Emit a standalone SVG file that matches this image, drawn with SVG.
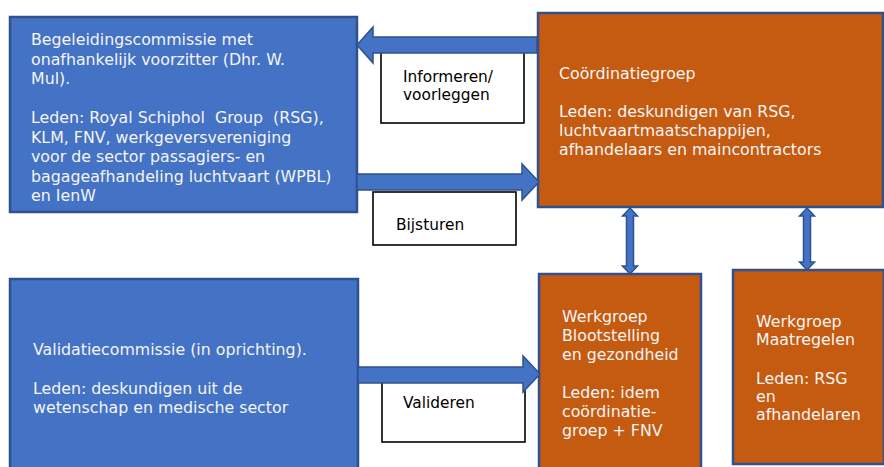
<svg xmlns="http://www.w3.org/2000/svg" width="884" height="467" viewBox="0 0 884 467">
<style>
.blue{fill:#4472C4;stroke:#2F528F;stroke-width:2.5}
.orange{fill:#C55A11;stroke:#2F528F;stroke-width:2.5}
.lbl{fill:#ffffff;stroke:#000000;stroke-width:1.6}
.t{font-family:"DejaVu Sans",Verdana,sans-serif;fill:#f5f5f5;font-size:15.8px}
.lt{font-family:"DejaVu Sans",Verdana,sans-serif;font-size:15.4px;fill:#000000}
.arr{fill:#4472C4;stroke:#2F528F;stroke-width:1.5;stroke-linejoin:miter}
</style>
<rect width="884" height="467" fill="#ffffff"/>

<g id="begeleidingscommissie">
<rect class="blue" x="10" y="17" width="347" height="195"/>
<text class="t">
<tspan x="31" y="45">Begeleidingscommissie met</tspan>
<tspan x="31" y="64.5">onafhankelijk voorzitter (Dhr. W.</tspan>
<tspan x="31" y="84">Mul).</tspan>
<tspan x="31" y="123">Leden: Royal <tspan word-spacing="5">Schiphol Group (RSG),</tspan></tspan>
<tspan x="31" y="142.5">KLM, FNV, werkgeversvereniging</tspan>
<tspan x="31" y="162">voor de sector passagiers- en</tspan>
<tspan x="31" y="181.5">bagageafhandeling luchtvaart (WPBL)</tspan>
<tspan x="31" y="201">en IenW</tspan>
</text>
</g>

<g id="coordinatiegroep">
<rect class="orange" x="538" y="13" width="345" height="194"/>
<text class="t">
<tspan x="559" y="79">Coördinatiegroep</tspan>
<tspan x="559" y="117">Leden: deskundigen van RSG,</tspan>
<tspan x="559" y="136">luchtvaartmaatschappijen,</tspan>
<tspan x="559" y="155">afhandelaars en maincontractors</tspan>
</text>
</g>

<g id="validatiecommissie">
<rect class="blue" x="10" y="279" width="348" height="200"/>
<text class="t">
<tspan x="33" y="355">Validatiecommissie (in oprichting).</tspan>
<tspan x="33" y="393.5">Leden: deskundigen uit de</tspan>
<tspan x="33" y="413">wetenschap en medische sector</tspan>
</text>
</g>

<g id="werkgroep-blootstelling">
<rect class="orange" x="539" y="274" width="162" height="205"/>
<text class="t">
<tspan x="562" y="322">Werkgroep</tspan>
<tspan x="562" y="341">Blootstelling</tspan>
<tspan x="562" y="360">en gezondheid</tspan>
<tspan x="562" y="398">Leden: idem</tspan>
<tspan x="562" y="417">coördinatie-</tspan>
<tspan x="562" y="436">groep + FNV</tspan>
</text>
</g>

<g id="werkgroep-maatregelen">
<rect class="orange" x="733" y="270" width="151" height="194"/>
<text class="t">
<tspan x="756" y="327">Werkgroep</tspan>
<tspan x="756" y="345">Maatregelen</tspan>
<tspan x="756" y="384">Leden: RSG</tspan>
<tspan x="756" y="402">en</tspan>
<tspan x="756" y="420">afhandelaren</tspan>
</text>
</g>

<g id="label-informeren">
<rect class="lbl" x="381" y="48" width="143" height="75"/>
<text class="lt"><tspan x="403" y="82">Informeren/</tspan><tspan x="403" y="100">voorleggen</tspan></text>
</g>

<g id="label-bijsturen">
<rect class="lbl" x="373" y="192" width="143" height="53"/>
<text class="lt" x="396" y="230">Bijsturen</text>
</g>

<g id="label-valideren">
<rect class="lbl" x="382" y="382" width="143" height="60"/>
<text class="lt" x="403" y="408">Valideren</text>
</g>

<g id="connectors">
<polygon class="arr" points="537,37 373,37 373,27 357,45 373,63 373,53 537,53"/>
<polygon class="arr" points="357,174 522,174 522,164 539,182 522,200 522,190 357,190"/>
<polygon class="arr" points="358,367 523,367 523,356 540,374 523,392 523,383 358,383"/>
<polygon class="arr" points="630,208 637.5,216 633.5,216 633.5,266 637.5,266 630,274 622.5,266 626.5,266 626.5,216 622.5,216"/>
<polygon class="arr" points="807,208 814.5,216 810.5,216 810.5,262 814.5,262 807,270 799.5,262 803.5,262 803.5,216 799.5,216"/>
</g>
</svg>
